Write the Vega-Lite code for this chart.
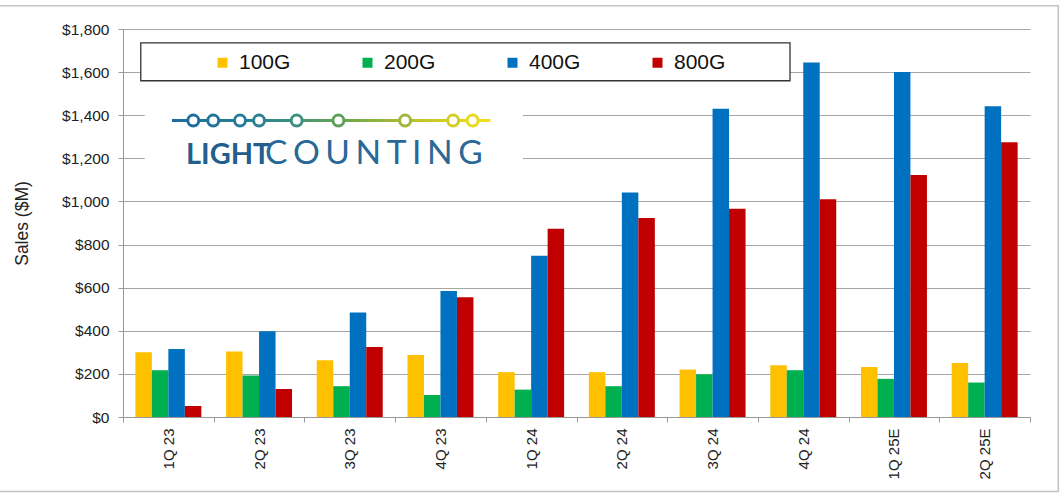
{
  "$schema": "https://vega.github.io/schema/vega-lite/v6.json",
  "width": 907,
  "height": 388,
  "autosize": {"type": "none"},
  "padding": {"left": 123, "top": 29, "right": 30, "bottom": 76},
  "background": "white",
  "config": {"view": {"stroke": null}, "font": "Liberation Sans"},
  "datasets": {
    "sales": [
      {"q": "1Q 23", "tech": "100G", "sales": 300},
      {"q": "1Q 23", "tech": "200G", "sales": 217},
      {"q": "1Q 23", "tech": "400G", "sales": 316},
      {"q": "1Q 23", "tech": "800G", "sales": 51},
      {"q": "2Q 23", "tech": "100G", "sales": 304},
      {"q": "2Q 23", "tech": "200G", "sales": 192},
      {"q": "2Q 23", "tech": "400G", "sales": 398},
      {"q": "2Q 23", "tech": "800G", "sales": 130},
      {"q": "3Q 23", "tech": "100G", "sales": 263},
      {"q": "3Q 23", "tech": "200G", "sales": 143},
      {"q": "3Q 23", "tech": "400G", "sales": 485},
      {"q": "3Q 23", "tech": "800G", "sales": 325},
      {"q": "4Q 23", "tech": "100G", "sales": 288},
      {"q": "4Q 23", "tech": "200G", "sales": 102},
      {"q": "4Q 23", "tech": "400G", "sales": 585},
      {"q": "4Q 23", "tech": "800G", "sales": 555},
      {"q": "1Q 24", "tech": "100G", "sales": 208},
      {"q": "1Q 24", "tech": "200G", "sales": 127},
      {"q": "1Q 24", "tech": "400G", "sales": 748},
      {"q": "1Q 24", "tech": "800G", "sales": 873},
      {"q": "2Q 24", "tech": "100G", "sales": 208},
      {"q": "2Q 24", "tech": "200G", "sales": 143},
      {"q": "2Q 24", "tech": "400G", "sales": 1041},
      {"q": "2Q 24", "tech": "800G", "sales": 923},
      {"q": "3Q 24", "tech": "100G", "sales": 220},
      {"q": "3Q 24", "tech": "200G", "sales": 198},
      {"q": "3Q 24", "tech": "400G", "sales": 1430},
      {"q": "3Q 24", "tech": "800G", "sales": 966},
      {"q": "4Q 24", "tech": "100G", "sales": 240},
      {"q": "4Q 24", "tech": "200G", "sales": 217},
      {"q": "4Q 24", "tech": "400G", "sales": 1645},
      {"q": "4Q 24", "tech": "800G", "sales": 1010},
      {"q": "1Q 25E", "tech": "100G", "sales": 232},
      {"q": "1Q 25E", "tech": "200G", "sales": 177},
      {"q": "1Q 25E", "tech": "400G", "sales": 1601},
      {"q": "1Q 25E", "tech": "800G", "sales": 1123},
      {"q": "2Q 25E", "tech": "100G", "sales": 251},
      {"q": "2Q 25E", "tech": "200G", "sales": 160},
      {"q": "2Q 25E", "tech": "400G", "sales": 1442},
      {"q": "2Q 25E", "tech": "800G", "sales": 1275}
    ],
    "one": [{}]
  },
  "layer": [
    {
      "data": {"name": "sales"},
      "mark": {"type": "bar"},
      "encoding": {
        "x": {
          "field": "q", "type": "nominal", "sort": null,
          "scale": {"domain": ["1Q 23","2Q 23","3Q 23","4Q 23","1Q 24","2Q 24","3Q 24","4Q 24","1Q 25E","2Q 25E"], "paddingInner": 0, "paddingOuter": 0},
          "axis": {"title": null, "labelAngle": -90, "labelFontSize": 15, "labelColor": "#222", "tickBand": "extent", "tickSize": 5, "tickColor": "#999", "domainColor": "#999", "labelPadding": 6, "grid": false}
        },
        "xOffset": {
          "field": "tech", "type": "nominal",
          "scale": {"paddingInner": 0, "paddingOuter": 0.75}
        },
        "y": {
          "field": "sales", "type": "quantitative",
          "scale": {"domain": [0, 1800], "nice": false},
          "axis": {"values": [0,200,400,600,800,1000,1200,1400,1600,1800], "format": "$,.0f", "labelFontSize": 15.5, "labelColor": "#222", "tickSize": 5, "tickColor": "#999", "domainColor": "#999", "gridColor": "#a6a6a6", "labelPadding": 9, "title": "Sales ($M)", "titleFontSize": 17.5, "titleFontWeight": "normal", "titleColor": "#222", "titlePadding": 30}
        },
        "color": {
          "field": "tech", "type": "nominal",
          "scale": {"domain": ["100G","200G","400G","800G"], "range": ["#FFC000","#00B050","#0070C0","#C00000"]},
          "legend": {"orient": "none", "legendX": 89, "legendY": 23, "direction": "horizontal", "columns": 4, "title": null, "symbolType": "square", "symbolSize": 100, "symbolStrokeWidth": 0, "labelFontSize": 21, "labelColor": "#111", "labelOffset": 6, "columnPadding": 66, "padding": 0}
        }
      }
    },
    {
      "data": {"name": "one"},
      "mark": {"type": "rect", "fillOpacity": 0, "stroke": "#c4c4c4", "strokeWidth": 1.5, "clip": false},
      "encoding": {
        "x": {"datum": "1Q 23", "bandPosition": -1.378},
        "x2": {"datum": "2Q 25E", "bandPosition": 1.312},
        "y": {"datum": 1908},
        "y2": {"datum": -346}
      }
    },
    {
      "data": {"name": "one"},
      "mark": {"type": "rect", "fill": "white", "stroke": "#333", "strokeWidth": 1.3},
      "encoding": {
        "x": {"datum": "1Q 23", "bandPosition": 0.196},
        "x2": {"datum": "4Q 24", "bandPosition": 0.354},
        "y": {"datum": 1736},
        "y2": {"datum": 1560}
      }
    },
    {
      "data": {"name": "one"},
      "mark": {"type": "rect", "fill": "white"},
      "encoding": {
        "x": {"datum": "1Q 23", "bandPosition": 0.24},
        "x2": {"datum": "1Q 24", "bandPosition": 0.41},
        "y": {"datum": 1480},
        "y2": {"datum": 1130}
      }
    },
    {
      "data": {"name": "one"},
      "mark": {"type": "rect", "fill": {"gradient": "linear", "x1": 0, "x2": 1, "y1": 0, "y2": 0, "stops": [{"offset": 0, "color": "#1e6b9e"}, {"offset": 0.3, "color": "#2a8790"}, {"offset": 0.55, "color": "#6fa84a"}, {"offset": 0.8, "color": "#c6c628"}, {"offset": 1, "color": "#f2e21c"}]}},
      "encoding": {
        "x": {"datum": "1Q 23", "bandPosition": 0.54},
        "x2": {"datum": "1Q 24", "bandPosition": 0.05},
        "y": {"datum": 1382},
        "y2": {"datum": 1368}
      }
    },
    {"data": {"name": "one"}, "mark": {"type": "point", "shape": "circle", "filled": false, "fill": "white", "fillOpacity": 1, "stroke": "#1f6e9d", "strokeWidth": 3, "size": 121, "opacity": 1}, "encoding": {"x": {"datum": "1Q 23", "bandPosition": 0.775}, "y": {"datum": 1375}}},
    {"data": {"name": "one"}, "mark": {"type": "point", "shape": "circle", "filled": false, "fill": "white", "fillOpacity": 1, "stroke": "#22739b", "strokeWidth": 3, "size": 121, "opacity": 1}, "encoding": {"x": {"datum": "1Q 23", "bandPosition": 0.995}, "y": {"datum": 1375}}},
    {"data": {"name": "one"}, "mark": {"type": "point", "shape": "circle", "filled": false, "fill": "white", "fillOpacity": 1, "stroke": "#267c98", "strokeWidth": 3, "size": 121, "opacity": 1}, "encoding": {"x": {"datum": "2Q 23", "bandPosition": 0.29}, "y": {"datum": 1375}}},
    {"data": {"name": "one"}, "mark": {"type": "point", "shape": "circle", "filled": false, "fill": "white", "fillOpacity": 1, "stroke": "#2a8292", "strokeWidth": 3, "size": 121, "opacity": 1}, "encoding": {"x": {"datum": "2Q 23", "bandPosition": 0.5}, "y": {"datum": 1375}}},
    {"data": {"name": "one"}, "mark": {"type": "point", "shape": "circle", "filled": false, "fill": "white", "fillOpacity": 1, "stroke": "#3b9080", "strokeWidth": 3, "size": 121, "opacity": 1}, "encoding": {"x": {"datum": "2Q 23", "bandPosition": 0.915}, "y": {"datum": 1375}}},
    {"data": {"name": "one"}, "mark": {"type": "point", "shape": "circle", "filled": false, "fill": "white", "fillOpacity": 1, "stroke": "#5e9f5c", "strokeWidth": 3, "size": 121, "opacity": 1}, "encoding": {"x": {"datum": "3Q 23", "bandPosition": 0.375}, "y": {"datum": 1375}}},
    {"data": {"name": "one"}, "mark": {"type": "point", "shape": "circle", "filled": false, "fill": "white", "fillOpacity": 1, "stroke": "#a2b73a", "strokeWidth": 3, "size": 121, "opacity": 1}, "encoding": {"x": {"datum": "4Q 23", "bandPosition": 0.11}, "y": {"datum": 1375}}},
    {"data": {"name": "one"}, "mark": {"type": "point", "shape": "circle", "filled": false, "fill": "white", "fillOpacity": 1, "stroke": "#d3cd26", "strokeWidth": 3, "size": 121, "opacity": 1}, "encoding": {"x": {"datum": "4Q 23", "bandPosition": 0.64}, "y": {"datum": 1375}}},
    {"data": {"name": "one"}, "mark": {"type": "point", "shape": "circle", "filled": false, "fill": "white", "fillOpacity": 1, "stroke": "#e8d81e", "strokeWidth": 3, "size": 121, "opacity": 1}, "encoding": {"x": {"datum": "4Q 23", "bandPosition": 0.855}, "y": {"datum": 1375}}},
    {
      "data": {"name": "one"},
      "mark": {"type": "text", "text": "LIGHT", "font": "Lato", "fontWeight": "bold", "fontSize": 29, "fill": "#235e8c", "align": "left", "baseline": "alphabetic"},
      "encoding": {"x": {"datum": "1Q 23", "bandPosition": 0.695}, "y": {"datum": 1173}}
    },
    {
      "data": {"name": "one"},
      "mark": {"type": "text", "text": "C\u2006O\u2006U\u2006N\u2006T\u2006I\u2006N\u2006G", "font": "Lato", "fontWeight": "normal", "fontSize": 33.5, "fill": "#2a6898", "align": "left", "baseline": "alphabetic"},
      "encoding": {"x": {"datum": "2Q 23", "bandPosition": 0.565}, "y": {"datum": 1173}}
    }
  ]
}
